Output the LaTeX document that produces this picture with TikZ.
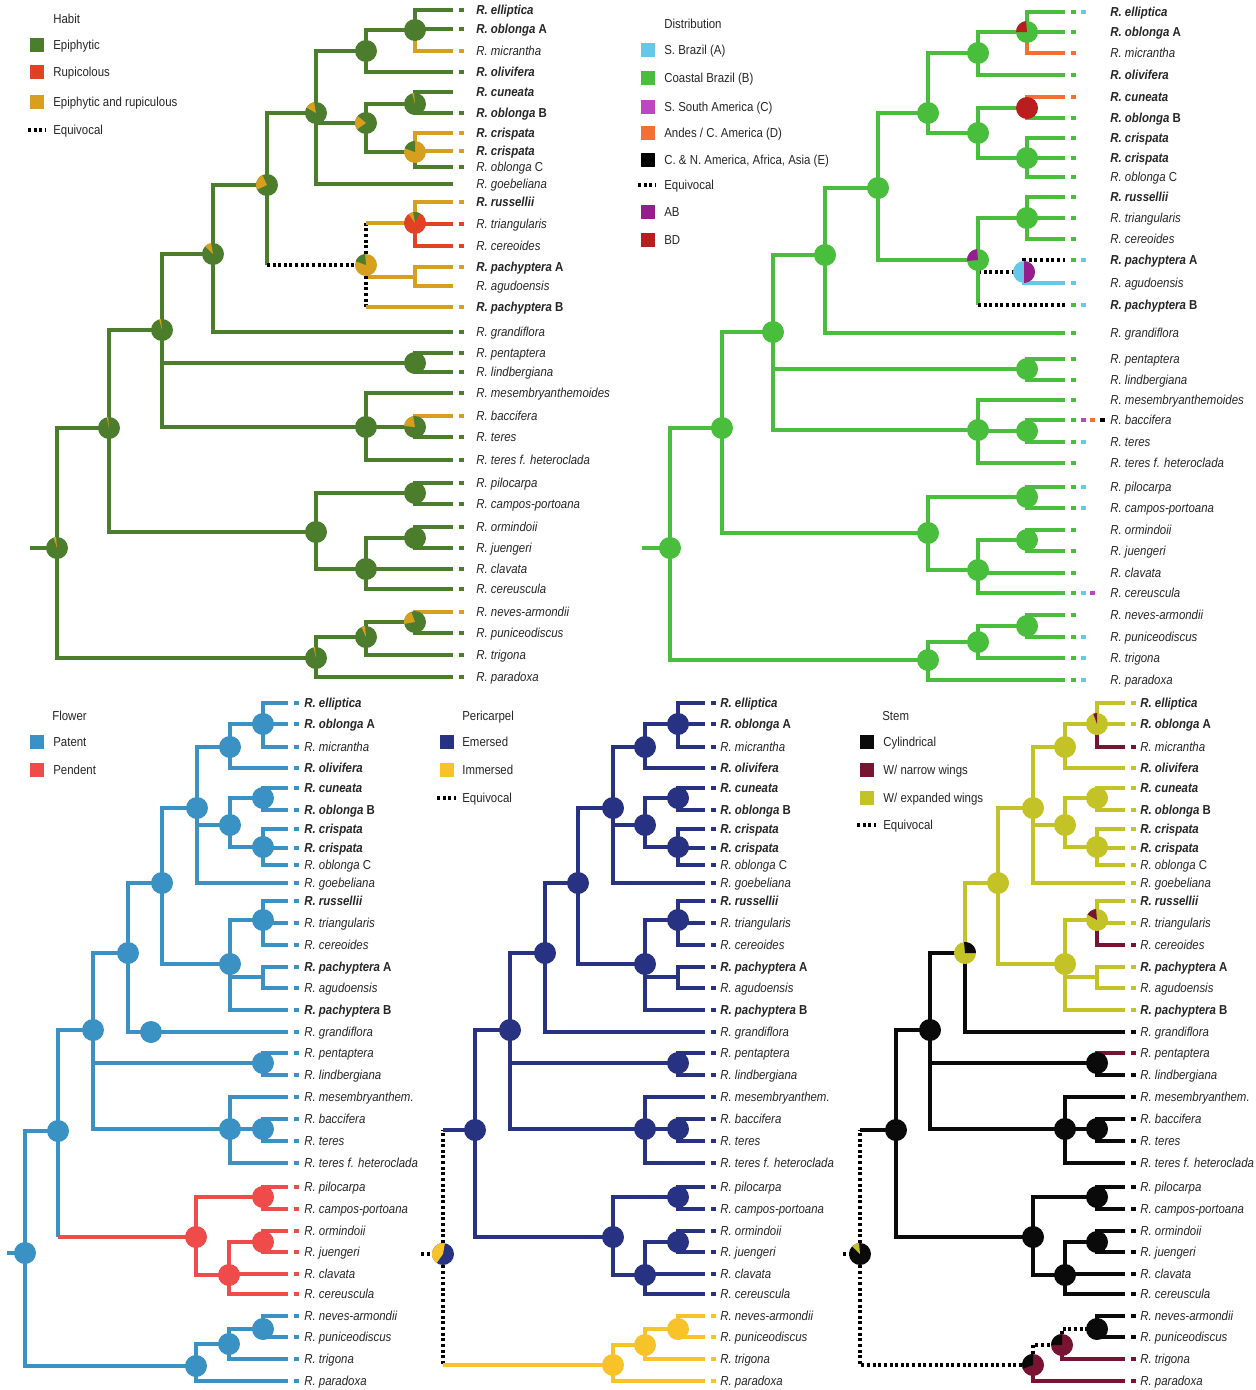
\documentclass[tikz,border=0pt]{standalone}
\usepackage{fontspec}
\setmainfont{Liberation Sans}[FakeStretch=0.88]
\usetikzlibrary{backgrounds}

\definecolor{habg}{RGB}{75,125,45}
\definecolor{haby}{RGB}{214,160,30}
\definecolor{habr}{RGB}{226,66,36}
\definecolor{distg}{RGB}{72,190,60}
\definecolor{dista}{RGB}{100,200,235}
\definecolor{distc}{RGB}{190,70,190}
\definecolor{distd}{RGB}{245,110,50}
\definecolor{distab}{RGB}{150,30,140}
\definecolor{distbd}{RGB}{185,30,30}
\definecolor{flb}{RGB}{58,145,195}
\definecolor{flr}{RGB}{240,75,75}
\definecolor{pen}{RGB}{40,50,130}
\definecolor{pim}{RGB}{248,195,40}
\definecolor{stb}{RGB}{10,10,10}
\definecolor{stm}{RGB}{120,20,50}
\definecolor{sty}{RGB}{195,195,40}

\newcommand{\taxfont}{\fontsize{7.4}{9}\selectfont}
\newcommand{\tb}[1]{\textbf{\textit{#1}}}
\newcommand{\taxon}[2]{\expandafter\def\csname tx#1\endcsname{#2}}
\newcommand{\tx}[1]{\csname tx#1\endcsname}
\newcommand{\mesname}{R. mesembryanthemoides}
\taxon{1}{\tb{R. elliptica}}
\taxon{2}{\tb{R. oblonga} \textbf{A}}
\taxon{3}{\textit{R. micrantha}}
\taxon{4}{\tb{R. olivifera}}
\taxon{5}{\tb{R. cuneata}}
\taxon{6}{\tb{R. oblonga} \textbf{B}}
\taxon{7}{\tb{R. crispata}}
\taxon{8}{\tb{R. crispata}}
\taxon{9}{\textit{R. oblonga} C}
\taxon{10}{\textit{R. goebeliana}}
\taxon{11}{\tb{R. russellii}}
\taxon{12}{\textit{R. triangularis}}
\taxon{13}{\textit{R. cereoides}}
\taxon{14}{\tb{R. pachyptera} \textbf{A}}
\taxon{15}{\textit{R. agudoensis}}
\taxon{16}{\tb{R. pachyptera} \textbf{B}}
\taxon{17}{\textit{R. grandiflora}}
\taxon{18}{\textit{R. pentaptera}}
\taxon{19}{\textit{R. lindbergiana}}
\taxon{20}{\textit{\mesname}}
\taxon{21}{\textit{R. baccifera}}
\taxon{22}{\textit{R. teres}}
\taxon{23}{\textit{R. teres f. heteroclada}}
\taxon{24}{\textit{R. pilocarpa}}
\taxon{25}{\textit{R. campos-portoana}}
\taxon{26}{\textit{R. ormindoii}}
\taxon{27}{\textit{R. juengeri}}
\taxon{28}{\textit{R. clavata}}
\taxon{29}{\textit{R. cereuscula}}
\taxon{30}{\textit{R. neves-armondii}}
\taxon{31}{\textit{R. puniceodiscus}}
\taxon{32}{\textit{R. trigona}}
\taxon{33}{\textit{R. paradoxa}}

\newcommand{\pier}{0.22cm}
% wedge of a pie node: node, start angle, end angle, colour
\newcommand{\slice}[4]{\fill[#4] (#1.center) -- ++(#2:\pier) arc[start angle=#2, end angle=#3, radius=\pier] -- cycle;}
% connector whose vertical and horizontal parts differ
\newcommand{\splitedge}[4]{\draw[#1] (#3.center) -- (#3.center |- #4.center); \draw[#2] (#3.center |- #4.center) -- (#4.center);}
% tip: prefix, index, tip x, y, dash colour, label x
\newcommand{\leaf}[6]{\coordinate (#1-#2) at (#3,#4);
	\fill[fill=#5] (#3+6,#4-1.6) rectangle (#3+11,#4+1.6);
	\node[taxon] (#1-#2-t) at (#6,#4) {\tx{#2}};}

\tikzset{
	br/.style={line width=2pt, line join=miter},
	hg/.style={br, draw=habg}, hy/.style={br, draw=haby}, hr/.style={br, draw=habr},
	dg/.style={br, draw=distg}, da/.style={br, draw=dista}, dd/.style={br, draw=distd},
	fb/.style={br, draw=flb}, fr/.style={br, draw=flr},
	pn/.style={br, draw=pen}, py/.style={br, draw=pim},
	sb/.style={br, draw=stb}, sm/.style={br, draw=stm}, sy/.style={br, draw=sty},
	eqv/.style={br, draw=black, dash pattern=on 1.7pt off 1.5pt},
	pie/.style={circle, inner sep=0pt, minimum size=0.44cm},
	taxon/.style={anchor=mid west, inner sep=0pt, font=\taxfont, text=black!85},
	legtxt/.style={anchor=mid west, inner sep=0pt, font=\taxfont, text=black!85},
	legbox/.style={minimum size=0.28cm, inner sep=0pt}
}

\begin{document}
\begin{tikzpicture}[x=0.02cm, y=-0.02cm]
\useasboundingbox (0,0) rectangle (1255,1390);

% Legends
\node[legtxt] (hleg) at (53,19) {Habit};
\foreach \k/\y/\c/\t in {1/45/habg/Epiphytic, 2/72/habr/Rupicolous, 3/102/haby/Epiphytic and rupiculous}
{\node[legbox, fill=\c] (hl\k) at (37,\y) {}; \node[legtxt] (hl\k-t) at (53,\y) {\t};}
\coordinate (hq1) at (28,130); \coordinate (hq2) at (46,130);
\draw[eqv] (hq1) -- (hq2); \node[legtxt] (hq-t) at (53,130) {Equivocal};

\node[legtxt] (dleg) at (664,24) {Distribution};
\foreach \k/\y/\c/\t in {1/50/dista/S. Brazil (A), 2/78/distg/Coastal Brazil (B), 3/107/distc/S. South America (C), 4/133/distd/{Andes / C. America (D)}, 5/160/black/{C. \& N. America, Africa, Asia (E)}, 6/212/distab/AB, 7/240/distbd/BD}
{\node[legbox, fill=\c] (dl\k) at (648,\y) {}; \node[legtxt] (dl\k-t) at (664,\y) {\t};}
\coordinate (dq1) at (638,185); \coordinate (dq2) at (656,185);
\draw[eqv] (dq1) -- (dq2); \node[legtxt] (dq-t) at (664,185) {Equivocal};

\node[legtxt] (fleg) at (52,716) {Flower};
\foreach \k/\y/\c/\t in {1/742/flb/Patent, 2/770/flr/Pendent}
{\node[legbox, fill=\c] (fl\k) at (37,\y) {}; \node[legtxt] (fl\k-t) at (53,\y) {\t};}

\node[legtxt] (pleg) at (462,716) {Pericarpel};
\foreach \k/\y/\c/\t in {1/742/pen/Emersed, 2/770/pim/Immersed}
{\node[legbox, fill=\c] (pl\k) at (447,\y) {}; \node[legtxt] (pl\k-t) at (462,\y) {\t};}
\coordinate (pq1) at (437,798); \coordinate (pq2) at (456,798);
\draw[eqv] (pq1) -- (pq2); \node[legtxt] (pq-t) at (462,798) {Equivocal};

\node[legtxt] (sleg) at (882,716) {Stem};
\foreach \k/\y/\c/\t in {1/742/stb/Cylindrical, 2/770/stm/{W/ narrow wings}, 3/798/sty/{W/ expanded wings}}
{\node[legbox, fill=\c] (sl\k) at (867,\y) {}; \node[legtxt] (sl\k-t) at (883,\y) {\t};}
\coordinate (sq1) at (857,825); \coordinate (sq2) at (876,825);
\draw[eqv] (sq1) -- (sq2); \node[legtxt] (sq-t) at (883,825) {Equivocal};

% Habit tree
\node[pie, fill=habg] (h0) at (57,548) {};
\node[pie, fill=habg] (hW) at (109,428) {};
\node[pie, fill=habg] (hL) at (162,330) {};
\node[pie, fill=habg] (hJ) at (213,254) {};
\node[pie, fill=habg] (hK) at (267,185) {};
\node[pie, fill=habg] (hC) at (316,113) {};
\node[pie, fill=habg] (hB) at (366,51) {};
\node[pie, fill=habg] (hA) at (415,30) {};
\node[pie, fill=habg] (hD) at (366,123) {};
\node[pie, fill=habg] (hE) at (415,104) {};
\node[pie, fill=haby] (hF) at (415,152) {};
\node[pie, fill=haby] (hG) at (366,265) {};
\node[pie, fill=habr] (hH) at (415,223) {};
\coordinate (hI) at (415,277);
\node[pie, fill=habg] (hM) at (415,363) {};
\node[pie, fill=habg] (hN) at (366,427) {};
\node[pie, fill=habg] (hO) at (415,427) {};
\node[pie, fill=habg] (hP) at (316,532) {};
\node[pie, fill=habg] (hQ) at (415,493) {};
\node[pie, fill=habg] (hR) at (366,569) {};
\node[pie, fill=habg] (hS) at (415,538) {};
\node[pie, fill=habg] (hT) at (316,658) {};
\node[pie, fill=habg] (hU) at (366,637) {};
\node[pie, fill=habg] (hV) at (415,622) {};
\slice{h0}{95}{108}{haby}
\slice{hW}{95}{102}{haby}
\slice{hL}{95}{105}{haby}
\slice{hJ}{100}{135}{haby}
\slice{hK}{115}{205}{haby}
\slice{hC}{100}{150}{haby}
\slice{hD}{140}{215}{haby}
\slice{hE}{95}{105}{haby}
\slice{hF}{90}{160}{habg}
\slice{hG}{95}{160}{habg}
\slice{hH}{65}{100}{habg}
\slice{hH}{100}{125}{haby}
\slice{hO}{100}{175}{haby}
\slice{hT}{95}{103}{haby}
\slice{hU}{95}{115}{haby}
\slice{hV}{110}{190}{haby}
\coordinate (h-stub) at (30,548);
\foreach \i/\y/\c in {1/10/habg, 2/29/habg, 3/51/haby, 4/72/habg, 5/92/none, 6/113/habg, 7/133/haby, 8/151/haby, 9/167/habg, 10/184/none, 11/202/haby, 12/224/habr, 13/246/habr, 14/267/haby, 15/286/none, 16/307/haby, 17/332/habg, 18/353/habg, 19/372/habg, 20/393/habg, 21/416/haby, 22/437/habg, 23/460/habg, 24/483/habg, 25/504/habg, 26/527/habg, 27/548/habg, 28/569/habg, 29/589/habg, 30/612/haby, 31/633/habg, 32/655/habg, 33/677/habg}
{\leaf{h}{\i}{453}{\y}{\c}{476}}

% Distribution tree
\node[pie, fill=distg] (d0) at (670,548) {};
\node[pie, fill=distg] (dW) at (722,428) {};
\node[pie, fill=distg] (dL) at (773,332) {};
\node[pie, fill=distg] (dK) at (825,255) {};
\node[pie, fill=distg] (dJ) at (878,188) {};
\node[pie, fill=distg] (dI) at (928,113) {};
\node[pie, fill=distg] (dB) at (978,53) {};
\node[pie, fill=distg] (dA) at (1027,32) {};
\node[pie, fill=distg] (dC) at (978,133) {};
\node[pie, fill=distbd] (dD) at (1027,108) {};
\node[pie, fill=distg] (dE) at (1027,158) {};
\node[pie, fill=distg] (dG) at (978,260) {};
\node[pie, fill=distg] (dF) at (1027,218) {};
\node[pie, fill=dista] (dH) at (1024,272) {};
\node[pie, fill=distg] (dM) at (1027,369) {};
\node[pie, fill=distg] (dN) at (978,430) {};
\node[pie, fill=distg] (dO) at (1027,431) {};
\node[pie, fill=distg] (dP) at (928,533) {};
\node[pie, fill=distg] (dQ) at (1027,497) {};
\node[pie, fill=distg] (dR) at (978,570) {};
\node[pie, fill=distg] (dS) at (1027,540) {};
\node[pie, fill=distg] (dT) at (928,660) {};
\node[pie, fill=distg] (dU) at (978,642) {};
\node[pie, fill=distg] (dV) at (1027,626) {};
\slice{dA}{95}{180}{distbd}
\slice{dG}{95}{185}{distab}
\slice{dH}{270}{450}{distab}
\coordinate (d-stub) at (642,548);
\foreach \i/\y/\d in {1/12/{distg,dista}, 2/32/{distg}, 3/53/{distd}, 4/75/{distg}, 5/97/{distd}, 6/118/{distg}, 7/138/{distg}, 8/158/{distg}, 9/177/{distg}, 11/197/{distg}, 12/218/{distg}, 13/239/{distg}, 14/260/{distg,dista}, 15/283/{dista}, 16/305/{distg,dista}, 17/333/{distg}, 18/359/{distg}, 19/380/{distg}, 20/400/{distg}, 21/420/{distg,distc,distd,black}, 22/442/{distg,dista}, 23/463/{distg}, 24/487/{distg,dista}, 25/508/{distg,dista}, 26/530/{distg}, 27/551/{distg}, 28/573/{distg}, 29/593/{distg,dista,distc}, 30/615/{distg}, 31/637/{distg,dista}, 32/658/{distg,dista}, 33/680/{distg,dista}}
{\leaf{d}{\i}{1065}{\y}{none}{1110}
 \foreach \cc [count=\k from 0] in \d {\fill[\cc] (1071+\k*9.5,\y-1.6) rectangle (1076+\k*9.5,\y+1.6);}}

% Flower, Pericarpel and Stem trees
\def\mesname{R. mesembryanthem.}
\node[pie, fill=flb] (f0) at (25,1253) {};
\node[pie, fill=flb] (fQ) at (58,1131) {};
\node[pie, fill=flb] (fM) at (93,1030) {};
\node[pie, fill=flb] (fK) at (128,953) {};
\node[pie, fill=flb] (fG) at (162,883) {};
\node[pie, fill=flb] (fC) at (197,808) {};
\node[pie, fill=flb] (fB) at (230,747) {};
\node[pie, fill=flb] (fA) at (263,724) {};
\node[pie, fill=flb] (fD) at (230,825) {};
\node[pie, fill=flb] (fE) at (263,798) {};
\node[pie, fill=flb] (fF) at (263,847) {};
\node[pie, fill=flb] (fH) at (230,964) {};
\node[pie, fill=flb] (fI) at (263,920) {};
\coordinate (fJ) at (263,977);
\node[pie, fill=flb] (fL) at (151,1032) {};
\node[pie, fill=flb] (fN) at (263,1063) {};
\node[pie, fill=flb] (fO) at (230,1129) {};
\node[pie, fill=flb] (fP) at (263,1129) {};
\node[pie, fill=flr] (fR) at (196,1237) {};
\node[pie, fill=flr] (fS) at (263,1197) {};
\node[pie, fill=flr] (fT) at (229,1275) {};
\node[pie, fill=flr] (fU) at (263,1242) {};
\node[pie, fill=flb] (fV) at (196,1366) {};
\node[pie, fill=flb] (fW) at (229,1344) {};
\node[pie, fill=flb] (fX) at (263,1329) {};
\coordinate (f-stub) at (7,1253);

\node[pie, fill=pen] (p0) at (443,1254) {};
\node[pie, fill=pen] (pQ) at (475,1130) {};
\node[pie, fill=pen] (pM) at (510,1030) {};
\node[pie, fill=pen] (pK) at (545,953) {};
\node[pie, fill=pen] (pG) at (578,883) {};
\node[pie, fill=pen] (pC) at (613,808) {};
\node[pie, fill=pen] (pB) at (645,747) {};
\node[pie, fill=pen] (pA) at (678,724) {};
\node[pie, fill=pen] (pD) at (645,825) {};
\node[pie, fill=pen] (pE) at (678,798) {};
\node[pie, fill=pen] (pF) at (678,847) {};
\node[pie, fill=pen] (pH) at (645,964) {};
\node[pie, fill=pen] (pI) at (678,920) {};
\coordinate (pJ) at (678,977);
\node[pie, fill=pen] (pN) at (678,1063) {};
\node[pie, fill=pen] (pO) at (645,1129) {};
\node[pie, fill=pen] (pP) at (678,1129) {};
\node[pie, fill=pen] (pR) at (613,1237) {};
\node[pie, fill=pen] (pS) at (678,1197) {};
\node[pie, fill=pen] (pT) at (645,1275) {};
\node[pie, fill=pen] (pU) at (678,1242) {};
\node[pie, fill=pim] (pV) at (613,1365) {};
\node[pie, fill=pim] (pW) at (645,1345) {};
\node[pie, fill=pim] (pX) at (678,1329) {};
\slice{p0}{80}{235}{pim}
\coordinate (p-stub) at (421,1254);

\node[pie, fill=stb] (s0) at (860,1254) {};
\node[pie, fill=stb] (sQ) at (896,1130) {};
\node[pie, fill=stb] (sM) at (930,1030) {};
\node[pie, fill=sty] (sK) at (965,953) {};
\node[pie, fill=sty] (sG) at (998,883) {};
\node[pie, fill=sty] (sC) at (1033,808) {};
\node[pie, fill=sty] (sB) at (1065,747) {};
\node[pie, fill=sty] (sA) at (1097,724) {};
\node[pie, fill=sty] (sD) at (1065,825) {};
\node[pie, fill=sty] (sE) at (1097,798) {};
\node[pie, fill=sty] (sF) at (1097,847) {};
\node[pie, fill=sty] (sH) at (1065,964) {};
\node[pie, fill=sty] (sI) at (1097,920) {};
\coordinate (sJ) at (1097,977);
\node[pie, fill=stb] (sN) at (1097,1063) {};
\node[pie, fill=stb] (sO) at (1065,1129) {};
\node[pie, fill=stb] (sP) at (1097,1129) {};
\node[pie, fill=stb] (sR) at (1033,1237) {};
\node[pie, fill=stb] (sS) at (1097,1197) {};
\node[pie, fill=stb] (sT) at (1065,1275) {};
\node[pie, fill=stb] (sU) at (1097,1242) {};
\node[pie, fill=stm] (sV) at (1033,1365) {};
\node[pie, fill=stm] (sW) at (1062,1345) {};
\node[pie, fill=stb] (sX) at (1097,1329) {};
\slice{sA}{90}{110}{stm}
\slice{sI}{95}{150}{stm}
\slice{sK}{0}{95}{stb}
\slice{s0}{95}{135}{sty}
\slice{sV}{90}{200}{stb}
\slice{sW}{90}{180}{stb}
\coordinate (s-stub) at (843,1254);

\foreach \i/\y/\cf/\cp/\cs in {1/703/flb/pen/sty, 2/724/flb/pen/sty, 3/747/flb/pen/stm, 4/768/flb/pen/sty, 5/788/flb/pen/sty, 6/810/flb/pen/sty, 7/829/flb/pen/sty, 8/848/flb/pen/sty, 9/865/flb/pen/sty, 10/883/flb/pen/sty, 11/901/flb/pen/sty, 12/923/flb/pen/sty, 13/945/flb/pen/stm, 14/967/flb/pen/sty, 15/988/flb/pen/sty, 16/1010/flb/pen/sty, 17/1032/flb/pen/stb, 18/1053/flb/pen/stm, 19/1075/flb/pen/stb, 20/1097/flb/pen/stb, 21/1119/flb/pen/stb, 22/1141/flb/pen/stb, 23/1163/flb/pen/stb, 24/1187/flr/pen/stb, 25/1209/flr/pen/stb, 26/1231/flr/pen/stb, 27/1252/flr/pen/stb, 28/1274/flr/pen/stb, 29/1294/flr/pen/stb, 30/1316/flb/pim/stb, 31/1337/flb/pim/stb, 32/1359/flb/pim/stm, 33/1381/flb/pim/stm}
{\leaf{f}{\i}{288}{\y}{\cf}{304}
 \leaf{p}{\i}{705}{\y}{\cp}{720}
 \leaf{s}{\i}{1125}{\y}{\cs}{1140}}

% Connections
\begin{scope}[on background layer]
\fill[white] (0,0) rectangle (1255,1390);
\foreach \a/\b/\s in {h-stub/h0/hg, h0/hW/hg, h0/hT/hg, hW/hL/hg, hW/hP/hg, hL/hJ/hg, hL/hM/hg, hL/hN/hg,
	hJ/hK/hg, hJ/h-17/hg, hK/hC/hg, hC/hB/hg, hC/hD/hg, hC/h-10/hg, hB/hA/hg, hB/h-4/hg,
	hA/h-1/hg, hA/h-2/hg, hA/h-3/hy, hD/hE/hg, hD/hF/hg, hE/h-5/hg, hE/h-6/hg,
	hF/h-7/hy, hF/h-8/hy, hF/h-9/hg, hH/h-11/hy, hH/h-12/hr, hH/h-13/hr, hI/h-14/hy, hI/h-15/hy,
	hM/h-18/hg, hM/h-19/hg, hN/h-20/hg, hN/hO/hg, hN/h-23/hg, hO/h-21/hy, hO/h-22/hg,
	hP/hQ/hg, hP/hR/hg, hQ/h-24/hg, hQ/h-25/hg, hR/hS/hg, hR/h-28/hg, hR/h-29/hg,
	hS/h-26/hg, hS/h-27/hg, hT/hU/hg, hT/h-33/hg, hU/hV/hg, hU/h-32/hg, hV/h-30/hy, hV/h-31/hg}
	{\draw[\s] (\a.center) |- (\b.center);}
\splitedge{hg}{eqv}{hK}{hG}
\splitedge{eqv}{hy}{hG}{hH}
\splitedge{eqv}{hy}{hG}{hI}
\splitedge{eqv}{hy}{hG}{h-16}

\foreach \a/\b/\s in {d-stub/d0/dg, d0/dW/dg, d0/dT/dg, dW/dL/dg, dW/dP/dg, dL/dK/dg, dL/dM/dg, dL/dN/dg,
	dK/dJ/dg, dK/d-17/dg, dJ/dI/dg, dJ/dG/dg, dI/dB/dg, dI/dC/dg, dB/dA/dg, dB/d-4/dg,
	dA/d-1/dg, dA/d-2/dg, dA/d-3/dd, dC/dD/dg, dC/dE/dg, dD/d-5/dd, dD/d-6/dg,
	dE/d-7/dg, dE/d-8/dg, dE/d-9/dg, dG/dF/dg, dF/d-11/dg, dF/d-12/dg, dF/d-13/dg,
	dH/d-14/eqv, dH/d-15/da, dM/d-18/dg, dM/d-19/dg, dN/d-20/dg, dN/dO/dg, dN/d-23/dg,
	dO/d-21/dg, dO/d-22/dg, dP/dQ/dg, dP/dR/dg, dQ/d-24/dg, dQ/d-25/dg, dR/dS/dg, dR/d-28/dg,
	dR/d-29/dg, dS/d-26/dg, dS/d-27/dg, dT/dU/dg, dT/d-33/dg, dU/dV/dg, dU/d-32/dg, dV/d-30/dg, dV/d-31/dg}
	{\draw[\s] (\a.center) |- (\b.center);}
\splitedge{dg}{eqv}{dG}{dH}
\splitedge{dg}{eqv}{dG}{d-16}

\foreach \a/\b/\s in {f-stub/f0/fb, f0/fQ/fb, f0/fV/fb, fQ/fM/fb, fM/fK/fb, fM/fN/fb, fM/fO/fb,
	fK/fG/fb, fK/fL/fb, fL/f-17/fb, fG/fC/fb, fG/fH/fb, fC/fB/fb, fC/fD/fb, fC/f-10/fb,
	fB/fA/fb, fB/f-4/fb, fA/f-1/fb, fA/f-2/fb, fA/f-3/fb, fD/fE/fb, fD/fF/fb, fE/f-5/fb, fE/f-6/fb,
	fF/f-7/fb, fF/f-8/fb, fF/f-9/fb, fH/fI/fb, fH/fJ/fb, fH/f-16/fb, fI/f-11/fb, fI/f-12/fb, fI/f-13/fb,
	fJ/f-14/fb, fJ/f-15/fb, fN/f-18/fb, fN/f-19/fb, fO/f-20/fb, fO/fP/fb, fO/f-23/fb, fP/f-21/fb, fP/f-22/fb,
	fR/fS/fr, fR/fT/fr, fS/f-24/fr, fS/f-25/fr, fT/fU/fr, fT/f-28/fr, fT/f-29/fr, fU/f-26/fr, fU/f-27/fr,
	fV/fW/fb, fV/f-33/fb, fW/fX/fb, fW/f-32/fb, fX/f-30/fb, fX/f-31/fb}
	{\draw[\s] (\a.center) |- (\b.center);}
\splitedge{fb}{fr}{fQ}{fR}

\foreach \a/\b/\s in {p-stub/p0/eqv, pQ/pM/pn, pQ/pR/pn, pM/pK/pn, pM/pN/pn, pM/pO/pn,
	pK/pG/pn, pK/p-17/pn, pG/pC/pn, pG/pH/pn, pC/pB/pn, pC/pD/pn, pC/p-10/pn,
	pB/pA/pn, pB/p-4/pn, pA/p-1/pn, pA/p-2/pn, pA/p-3/pn, pD/pE/pn, pD/pF/pn, pE/p-5/pn, pE/p-6/pn,
	pF/p-7/pn, pF/p-8/pn, pF/p-9/pn, pH/pI/pn, pH/pJ/pn, pH/p-16/pn, pI/p-11/pn, pI/p-12/pn, pI/p-13/pn,
	pJ/p-14/pn, pJ/p-15/pn, pN/p-18/pn, pN/p-19/pn, pO/p-20/pn, pO/pP/pn, pO/p-23/pn, pP/p-21/pn, pP/p-22/pn,
	pR/pS/pn, pR/pT/pn, pS/p-24/pn, pS/p-25/pn, pT/pU/pn, pT/p-28/pn, pT/p-29/pn, pU/p-26/pn, pU/p-27/pn,
	pV/pW/py, pV/p-33/py, pW/pX/py, pW/p-32/py, pX/p-30/py, pX/p-31/py}
	{\draw[\s] (\a.center) |- (\b.center);}
\splitedge{eqv}{pn}{p0}{pQ}
\splitedge{eqv}{py}{p0}{pV}

\foreach \a/\b/\s in {s-stub/s0/eqv, s0/sV/eqv, sQ/sM/sb, sQ/sR/sb, sM/sK/sb, sM/sN/sb, sM/sO/sb,
	sK/sG/sy, sK/s-17/sb, sG/sC/sy, sG/sH/sy, sC/sB/sy, sC/sD/sy, sC/s-10/sy,
	sB/sA/sy, sB/s-4/sy, sA/s-1/sy, sA/s-2/sy, sA/s-3/sm, sD/sE/sy, sD/sF/sy, sE/s-5/sy, sE/s-6/sy,
	sF/s-7/sy, sF/s-8/sy, sF/s-9/sy, sH/sI/sy, sH/sJ/sy, sH/s-16/sy, sI/s-11/sy, sI/s-12/sy, sI/s-13/sm,
	sJ/s-14/sy, sJ/s-15/sy, sN/s-18/sm, sN/s-19/sb, sO/s-20/sb, sO/sP/sb, sO/s-23/sb, sP/s-21/sb, sP/s-22/sb,
	sR/sS/sb, sR/sT/sb, sS/s-24/sb, sS/s-25/sb, sT/sU/sb, sT/s-28/sb, sT/s-29/sb, sU/s-26/sb, sU/s-27/sb,
	sV/sW/eqv, sV/s-33/sm, sW/sX/eqv, sW/s-32/sm, sX/s-30/sb, sX/s-31/sb}
	{\draw[\s] (\a.center) |- (\b.center);}
\splitedge{eqv}{sb}{s0}{sQ}
\end{scope}
\end{tikzpicture}
\end{document}
